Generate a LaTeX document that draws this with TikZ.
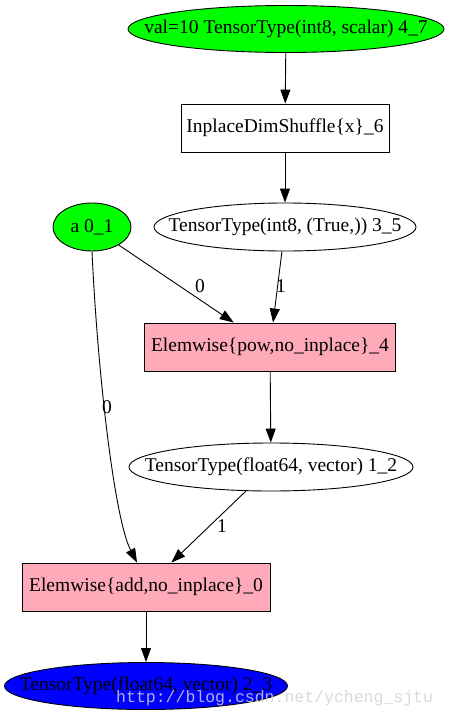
\documentclass[tikz,border=0pt]{standalone}
\usepackage{fontspec}
\setmainfont{Liberation Serif}
\setmonofont{Liberation Mono}
\usetikzlibrary{arrows.meta,shapes.geometric}
\definecolor{gvgreen}{RGB}{0,255,0}
\definecolor{gvblue}{RGB}{0,0,255}
\definecolor{gvpink}{RGB}{255,170,185}
\begin{document}
\begin{tikzpicture}[x=1pt,y=-1pt,
  every node/.style={font=\fontsize{19.5}{22}\selectfont, inner sep=0pt},
  ell/.style={draw, ellipse, line width=0.9pt, inner sep=-60pt},
  box/.style={draw, rectangle, line width=0.9pt},
  arr/.style={-{Triangle[length=14pt,width=10pt]}, line width=0.9pt},
  lbl/.style={font=\fontsize{19.5}{22}\selectfont}]
\useasboundingbox (0,0) rectangle (448,715);
\node[ell, fill=gvgreen, minimum width=316pt, minimum height=47pt] (n47) at (286,29) {val=10 TensorType(int8, scalar) 4\_7};
\node[box, minimum width=208pt, minimum height=48pt] (n6) at (285,128) {InplaceDimShuffle\{x\}\_6};
\node[ell, minimum width=262pt, minimum height=48pt] (n35) at (285,227) {TensorType(int8, (True,)) 3\_5};
\node[ell, fill=gvgreen, minimum width=78pt, minimum height=48pt] (a) at (92,227) {a 0\_1};
\node[box, fill=gvpink, minimum width=251pt, minimum height=48pt] (pow) at (270,347) {Elemwise\{pow,no\_inplace\}\_4};
\node[ell, minimum width=284pt, minimum height=48pt] (n12) at (271,467) {TensorType(float64, vector) 1\_2};
\node[box, fill=gvpink, minimum width=248pt, minimum height=48pt] (add) at (146,587) {Elemwise\{add,no\_inplace\}\_0};
\node[ell, fill=gvblue, minimum width=283pt, minimum height=47pt] (out) at (146,686) {TensorType(float64, vector) 2\_3};

\draw[arr] (n47) -- (n6);
\draw[arr] (n6) -- (n35);
\draw[arr] (n35) -- (pow);
\draw[arr] (a) -- (pow);
\draw[arr] (pow) -- (n12);
\draw[arr] (n12) -- (add);
\draw[arr] (a.south) .. controls (98,380) and (115,520) .. ([xshift=-9pt]add.north);
\draw[arr] (add) -- (out);

\node[lbl] (l1) at (281,286) {1};
\node[lbl] (l2) at (200,286) {0};
\node[lbl] (l3) at (222,526) {1};
\node[lbl] (l4) at (107,407) {0};

\node[font=\fontsize{16.5}{18}\ttfamily, text=gray!35, opacity=0.85, anchor=base west] (wm) at (116,702) {http://blog.csdn.net/ycheng\_sjtu};
\end{tikzpicture}
\end{document}
